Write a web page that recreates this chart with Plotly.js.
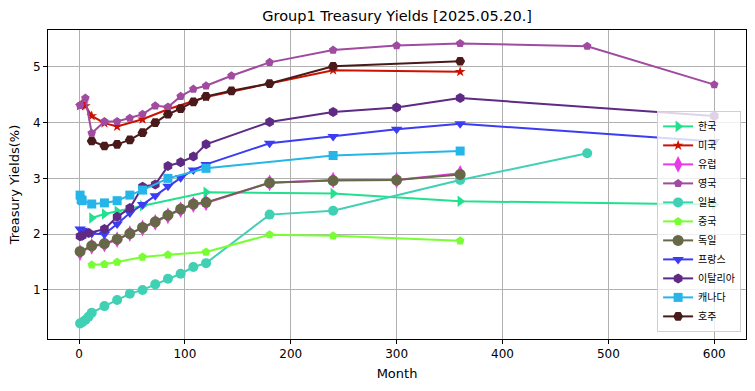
<!DOCTYPE html>
<html><head><meta charset="utf-8">
<script src="https://cdn.plot.ly/plotly-3.0.1.min.js"></script>
<style>html,body{margin:0;padding:0;background:#fff;}#chart{width:755px;height:391px;}</style>
</head><body><div id="chart"></div>
<script>
const seriesNames = ['한국','미국','유럽','영국','일본','중국','독일','프랑스','이탈리아','캐나다','호주'];

const krMonths = [12,24,36,60,120,240,360,600];
const krYields = [2.29,2.36,2.41,2.51,2.75,2.73,2.59,2.53];

const usMonths = [1,2,3,4,6,12,24,36,60,84,120,240,360];
const usYields = [4.30,4.31,4.34,4.33,4.30,4.12,3.99,3.93,4.06,4.24,4.46,4.94,4.91];

const euMonths = [1,12,24,36,48,60,72,84,96,108,120,180,240,300,360];
const euYields = [1.67,1.78,1.82,1.90,2.01,2.11,2.21,2.33,2.44,2.53,2.56,2.92,2.97,2.97,3.09];

const ukMonths = [1,6,12,24,36,48,60,72,84,96,108,120,144,180,240,300,360,480,600];
const ukYields = [4.31,4.44,3.81,4.02,4.02,4.08,4.15,4.30,4.28,4.47,4.60,4.66,4.84,5.08,5.30,5.38,5.42,5.37,4.68];

const jpMonths = [1,3,6,9,12,24,36,48,60,72,84,96,108,120,180,240,360,480];
const jpYields = [0.40,0.42,0.46,0.52,0.59,0.71,0.82,0.93,1.00,1.10,1.20,1.29,1.41,1.48,2.35,2.42,2.97,3.45];

const cnMonths = [12,24,36,60,84,120,180,240,360];
const cnYields = [1.45,1.46,1.50,1.59,1.63,1.68,1.99,1.97,1.88];

const deMonths = [1,12,24,36,48,60,72,84,96,108,120,180,240,300,360];
const deYields = [1.69,1.79,1.83,1.91,2.01,2.12,2.22,2.34,2.45,2.54,2.57,2.92,2.96,2.97,3.07];

const frMonths = [1,3,6,12,24,36,48,60,72,84,96,108,120,180,240,300,360,600];
const frYields = [2.09,2.07,2.05,2.01,2.00,2.18,2.38,2.53,2.69,2.86,3.01,3.15,3.25,3.63,3.75,3.88,3.98,3.66];

const itMonths = [1,3,9,24,36,48,60,72,84,96,108,120,180,240,300,360,600];
const itYields = [1.96,1.97,2.02,2.09,2.31,2.47,2.85,2.89,3.22,3.29,3.39,3.61,4.01,4.19,4.27,4.44,4.12];

const caMonths = [1,2,3,12,24,36,48,60,84,120,240,360];
const caYields = [2.70,2.62,2.60,2.54,2.56,2.60,2.70,2.79,3.00,3.18,3.41,3.49];

const auMonths = [12,24,36,48,60,72,84,96,108,120,144,180,240,360];
const auYields = [3.67,3.58,3.61,3.69,3.82,4.00,4.15,4.25,4.37,4.47,4.57,4.70,5.01,5.10];

const allX = [krMonths,usMonths,euMonths,ukMonths,jpMonths,cnMonths,deMonths,frMonths,itMonths,caMonths,auMonths];
const allY = [krYields,usYields,euYields,ukYields,jpYields,cnYields,deYields,frYields,itYields,caYields,auYields];
const colors = ['#22e08e','#cc1100','#e83ae8','#a04aa0','#40d0b4','#77ff33','#686848','#3c3cf5','#5e2a84','#25b5e8','#4a1a1a'];
const symbols = ['triangle-right','star','diamond-tall','pentagon','circle','pentagon','circle','triangle-down','hexagon','square','hexagon2'];
const sizes = [10,8,12,9,10,9,11,10,10,9,10];

const traces = seriesNames.map((n,i)=>({
  type:'scatter', mode:'lines+markers', name:n,
  x: allX[i], y: allY[i],
  line:{color:colors[i], width:2},
  marker:{color:colors[i], symbol:symbols[i], size:sizes[i], line:{width:0}}
}));

const font = 'DejaVu Sans, Noto Sans CJK KR, sans-serif';
const layout = {
  width:755, height:391,
  margin:{l:48, r:9, t:30, b:52},
  paper_bgcolor:'#fff', plot_bgcolor:'#fff',
  font:{family:font, size:12, color:'#000'},
  title:{text:'Group1 Treasury Yields [2025.05.20.]', font:{family:font, size:14.5, color:'#000'}, x:0.526, xanchor:'center', y:0.959, yanchor:'middle'},
  xaxis:{range:[-29.3,630], tickvals:[0,100,200,300,400,500,600], showgrid:true, gridcolor:'#b0b0b0', gridwidth:1,
    zeroline:false, showline:true, linecolor:'#000', linewidth:1, mirror:true, ticks:'outside', ticklen:4, tickcolor:'#000',
    tickfont:{size:12}, title:{text:'Month', font:{size:13}, standoff:8}},
  yaxis:{range:[0.12,5.66], tickvals:[1,2,3,4,5], showgrid:true, gridcolor:'#b0b0b0', gridwidth:1,
    zeroline:false, showline:true, linecolor:'#000', linewidth:1, mirror:true, ticks:'outside', ticklen:4, tickcolor:'#000',
    tickfont:{size:12}, title:{text:'Treasury Yields(%)', font:{size:13}, standoff:10}},
  legend:{x:0.993, y:0.023, xanchor:'right', yanchor:'bottom', bgcolor:'rgba(255,255,255,0.8)', bordercolor:'#d0d0d0', borderwidth:1,
    font:{family:font, size:10}, tracegroupgap:0},
  showlegend:true
};
Plotly.newPlot('chart', traces, layout, {displayModeBar:false, staticPlot:true});
</script></body></html>
